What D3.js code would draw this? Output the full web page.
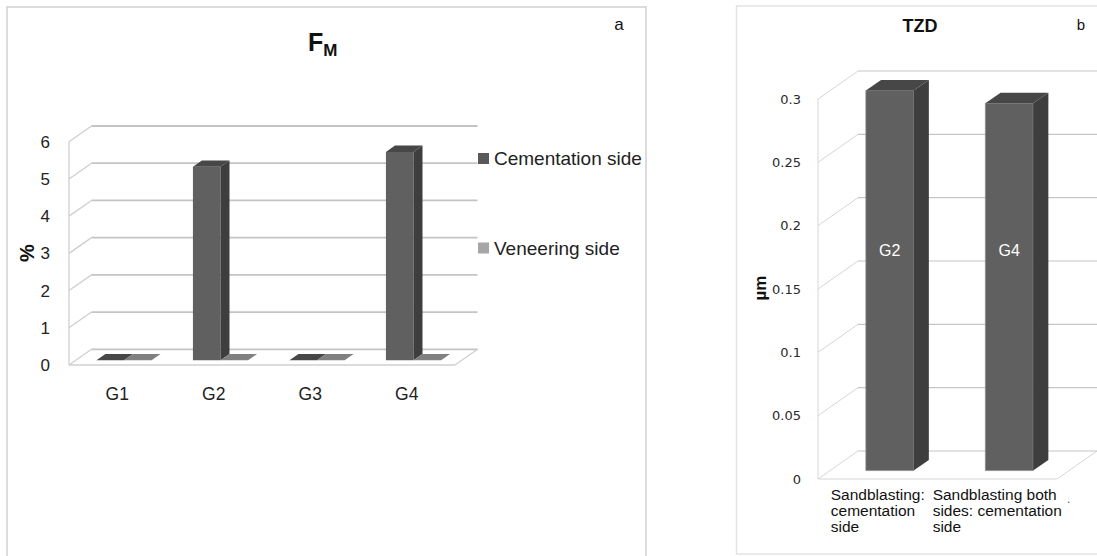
<!DOCTYPE html>
<html>
<head>
<meta charset="utf-8">
<script src="https://cdn.jsdelivr.net/npm/d3@7"></script>
<style>
  html, body { margin: 0; padding: 0; background: #ffffff; }
  svg { display: block; }
</style>
</head>
<body>
<svg id="chart" width="1097" height="556"></svg>
<script>
// ---------- data ----------
const categoriesA = ["G1", "G2", "G3", "G4"];
const seriesNamesA = ["Cementation side", "Veneering side"];
const cementationSide = [0, 5.2, 0, 5.6];
const veneeringSide = [0, 0, 0, 0];
const ticksA = [0, 1, 2, 3, 4, 5, 6];

const categoriesB = [
  ["Sandblasting:", "cementation", "side"],
  ["Sandblasting both", "sides: cementation", "side"]
];
const tzdValues = [0.30, 0.29];
const barLabelsB = ["G2", "G4"];
const ticksB = [0, 0.05, 0.1, 0.15, 0.2, 0.25, 0.3];

// ---------- setup ----------
const svg = d3.select("#chart");
const FONT = "'Liberation Sans', Arial, sans-serif";

// borders
svg.append("rect").attr("x", 7).attr("y", 7).attr("width", 639).attr("height", 560)
  .attr("fill", "none").attr("stroke", "#d4d4d4").attr("stroke-width", 1.6);
svg.append("rect").attr("x", 736.5).attr("y", 6).attr("width", 380).attr("height", 548)
  .attr("fill", "none").attr("stroke", "#e2e2e2").attr("stroke-width", 1.4);

// generic 3D frame helper
function frame(g, cfg) {
  const { x0, x1, yBase, ddx, ddy, y, ticks, gridColor, gridW, wallColor, wallW } = cfg;
  const top = y(d3.max(ticks));
  g.append("line").attr("x1", x0).attr("x2", x0).attr("y1", yBase).attr("y2", yBase - top)
    .attr("stroke", wallColor).attr("stroke-width", wallW);
  g.append("line").attr("x1", x0).attr("x2", x1).attr("y1", yBase).attr("y2", yBase)
    .attr("stroke", wallColor).attr("stroke-width", wallW);
  g.append("line").attr("x1", x1).attr("x2", x1 + ddx).attr("y1", yBase).attr("y2", yBase + ddy)
    .attr("stroke", wallColor).attr("stroke-width", wallW);
  ticks.forEach(t => {
    const yf = yBase - y(t);
    g.append("line").attr("x1", x0).attr("y1", yf).attr("x2", x0 + ddx).attr("y2", yf + ddy)
      .attr("stroke", wallColor).attr("stroke-width", wallW);
    g.append("line").attr("x1", x0 + ddx).attr("y1", yf + ddy).attr("x2", x1 + ddx).attr("y2", yf + ddy)
      .attr("stroke", gridColor).attr("stroke-width", gridW);
  });
}

function bar3d(g, cfg, xa, xb, v, f0, f1, colors, stroke) {
  const { yBase, ddx, ddy, y } = cfg;
  const X = (x, f) => x + f * ddx;
  const Y = (val, f) => yBase + f * ddy - y(val);
  const pts = a => a.map(p => p.join(",")).join(" ");
  if (v > 0) {
    g.append("polygon").attr("points", pts([[X(xa,f0),Y(0,f0)],[X(xb,f0),Y(0,f0)],[X(xb,f0),Y(v,f0)],[X(xa,f0),Y(v,f0)]]))
      .attr("fill", colors.front).attr("stroke", stroke || "none").attr("stroke-width", 0.7);
    g.append("polygon").attr("points", pts([[X(xb,f0),Y(0,f0)],[X(xb,f1),Y(0,f1)],[X(xb,f1),Y(v,f1)],[X(xb,f0),Y(v,f0)]]))
      .attr("fill", colors.side);
  }
  g.append("polygon").attr("points", pts([[X(xa,f0),Y(v,f0)],[X(xb,f0),Y(v,f0)],[X(xb,f1),Y(v,f1)],[X(xa,f1),Y(v,f1)]]))
    .attr("fill", colors.top);
}

// ---------- panel a ----------
const gA = svg.append("g");
const cfgA = {
  x0: 69, x1: 455, yBase: 365, ddx: 22.5, ddy: -15.7,
  y: d3.scaleLinear().domain([0, 6]).range([0, 223.3]),
  ticks: ticksA, gridColor: "#c4c4c4", gridW: 1.8, wallColor: "#cfcfcf", wallW: 1.3
};
frame(gA, cfgA);
const xA = d3.scaleBand().domain(categoriesA).range([cfgA.x0, cfgA.x1]);
const bwA = xA.bandwidth() / 3.5;
const f0 = 0.3, f1 = 0.7;
const colDark = { front: "#606060", side: "#3e3e3e", top: "#474747" };
const colLight = { front: "#a6a6a6", side: "#6e6e6e", top: "#808080" };
categoriesA.forEach((c, i) => {
  const cx = xA(c) + xA.bandwidth() / 2;
  bar3d(gA, cfgA, cx - bwA, cx, cementationSide[i], f0, f1, colDark);
  bar3d(gA, cfgA, cx, cx + bwA, veneeringSide[i], f0, f1, colLight);
});
gA.selectAll("text.ty").data(ticksA).enter().append("text")
  .attr("x", 50).attr("y", d => cfgA.yBase - cfgA.y(d) + 6)
  .attr("text-anchor", "end").attr("font-family", FONT).attr("font-size", 17).attr("fill", "#222")
  .text(d => d);
gA.selectAll("text.tx").data(categoriesA).enter().append("text")
  .attr("x", d => xA(d) + xA.bandwidth() / 2).attr("y", 399.5)
  .attr("text-anchor", "middle").attr("font-family", FONT).attr("font-size", 17.5).attr("fill", "#222")
  .text(d => d);
gA.append("text").attr("transform", "translate(34,253) rotate(-90)")
  .attr("text-anchor", "middle").attr("font-family", FONT).attr("font-size", 20).attr("font-weight", "bold")
  .attr("fill", "#111").text("%");
const tA = gA.append("text").attr("x", 308).attr("y", 51).attr("font-family", FONT)
  .attr("font-weight", "bold").attr("fill", "#111");
tA.append("tspan").attr("font-size", 25).text("F");
tA.append("tspan").attr("font-size", 17).attr("dy", 5).text("M");
gA.append("text").attr("x", 619).attr("y", 30).attr("text-anchor", "middle")
  .attr("font-family", FONT).attr("font-size", 17).attr("fill", "#111").text("a");
const legColors = ["#595959", "#a6a6a6"];
const legY = [158.5, 248];
seriesNamesA.forEach((s, i) => {
  gA.append("rect").attr("x", 478).attr("y", legY[i] - 5.5).attr("width", 11).attr("height", 11)
    .attr("fill", legColors[i]);
  gA.append("text").attr("x", 494).attr("y", legY[i] + 6.5).attr("font-family", FONT)
    .attr("font-size", 19).attr("fill", "#222").text(s);
});

// ---------- panel b ----------
const gB = svg.append("g");
const cfgB = {
  x0: 818, x1: 1057, yBase: 479, ddx: 40, ddy: -28,
  y: d3.scaleLinear().domain([0, 0.3]).range([0, 380]),
  ticks: ticksB, gridColor: "#c6c6c6", gridW: 1.2, wallColor: "#d6d6d6", wallW: 1
};
frame(gB, cfgB);
const idxB = categoriesB.map((d, i) => i);
const xB = d3.scaleBand().domain(idxB).range([cfgB.x0, cfgB.x1]);
const bwB = xB.bandwidth() / 2.5;
idxB.forEach(i => {
  const cx = xB(i) + xB.bandwidth() / 2;
  bar3d(gB, cfgB, cx - bwB / 2, cx + bwB / 2, tzdValues[i], f0, 0.68, colDark, "#8a8a8a");
  const fx = cx + f0 * cfgB.ddx;
  gB.append("text").attr("x", fx).attr("y", 255.5).attr("text-anchor", "middle")
    .attr("font-family", FONT).attr("font-size", 16).attr("fill", "#ffffff").text(barLabelsB[i]);
});
gB.selectAll("text.ty").data(ticksB).enter().append("text")
  .attr("x", 801).attr("y", d => cfgB.yBase - cfgB.y(d) + 4.5)
  .attr("text-anchor", "end").attr("font-family", "'DejaVu Sans', sans-serif").attr("font-size", 13)
  .attr("fill", "#2a2a2a").text(d => d);
idxB.forEach(i => {
  const cx = xB(i) + xB.bandwidth() / 2;
  const t = gB.append("text").attr("font-family", FONT).attr("font-size", 15.5).attr("fill", "#111");
  categoriesB[i].forEach((line, k) => {
    t.append("tspan").attr("y", 499.5 + k * 16).text(line);
  });
  let w = 0;
  t.selectAll("tspan").each(function () { w = Math.max(w, this.getComputedTextLength()); });
  t.selectAll("tspan").attr("x", cx - w / 2);
});
gB.append("text").attr("x", 1067).attr("y", 503).attr("font-family", FONT).attr("font-size", 12)
  .attr("fill", "#555").text(".");
gB.append("text").attr("transform", "translate(766,288) rotate(-90)").attr("text-anchor", "middle")
  .attr("font-family", FONT).attr("font-size", 17).attr("font-weight", "bold").attr("fill", "#111").text("µm");
gB.append("text").attr("x", 920).attr("y", 31.5).attr("text-anchor", "middle")
  .attr("font-family", FONT).attr("font-size", 18).attr("font-weight", "bold").attr("fill", "#111").text("TZD");
gB.append("text").attr("x", 1081).attr("y", 29.5).attr("text-anchor", "middle")
  .attr("font-family", FONT).attr("font-size", 15).attr("fill", "#111").text("b");
</script>
</body>
</html>
